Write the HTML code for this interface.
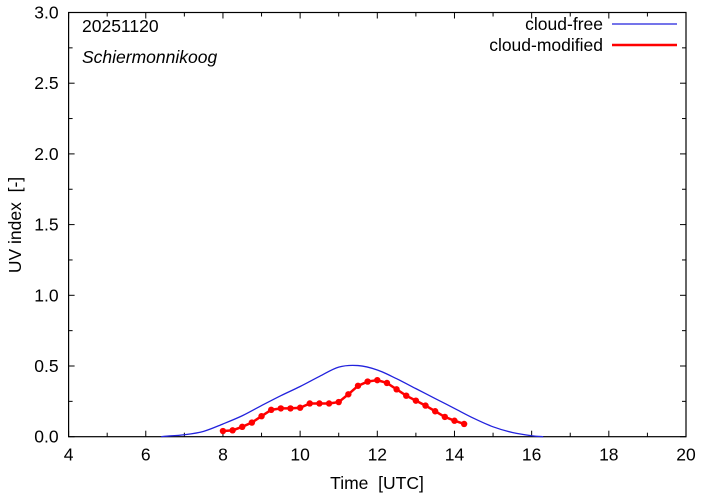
<!DOCTYPE html>
<html><head><meta charset="utf-8"><style>
html,body{margin:0;padding:0;background:#fff;}
svg{display:block;font-family:"Liberation Sans",sans-serif;}
</style></head><body>
<svg id="chart" width="702" height="497">
<rect x="0" y="0" width="702" height="497" fill="#fff"/>
<g id="axes"></g>
<g id="series"></g>
<text x="82" y="32" font-size="17.5">20251120</text>
<text x="82" y="63" font-size="17.5" font-style="italic">Schiermonnikoog</text>
<g>
<text x="603" y="30" font-size="17.5" text-anchor="end">cloud-free</text>
<line x1="612" y1="24" x2="677" y2="24" stroke="#2222dd" stroke-width="1.3"/>
<text x="603" y="51" font-size="17.5" text-anchor="end">cloud-modified</text>
<line x1="612" y1="45" x2="677" y2="45" stroke="#ff0000" stroke-width="2.5"/>
</g>
<text x="377" y="489" font-size="17.5" text-anchor="middle">Time&#160;&#160;[UTC]</text>
<text transform="translate(21,225) rotate(-90)" font-size="17.5" text-anchor="middle">UV index&#160;&#160;[-]</text>
</svg>
<script>
const xTicks=[4,6,8,10,12,14,16,18,20];
const yTicks=[0,0.5,1.0,1.5,2.0,2.5,3.0];
const yTickLabels=["0.0","0.5","1.0","1.5","2.0","2.5","3.0"];
const clearTimes=[6.4,6.5,7,7.5,8,8.5,9,9.5,10,10.5,11,11.5,12,12.5,13,13.5,14,14.5,15,15.5,16,16.3];
const clearUV=[0,0.003,0.014,0.038,0.09,0.148,0.22,0.29,0.355,0.426,0.492,0.503,0.472,0.41,0.34,0.27,0.20,0.13,0.07,0.03,0.007,0];
const cloudTimes=[8,8.25,8.5,8.75,9,9.25,9.5,9.75,10,10.25,10.5,10.75,11,11.25,11.5,11.75,12,12.25,12.5,12.75,13,13.25,13.5,13.75,14,14.25];
const cloudUV=[0.04,0.045,0.07,0.10,0.145,0.19,0.20,0.20,0.205,0.235,0.235,0.235,0.245,0.30,0.36,0.39,0.40,0.38,0.335,0.29,0.255,0.22,0.18,0.14,0.113,0.09];
const L=68.6,R=686,T=12.5,B=436.7;
const X=v=>L+(v-4)/16*(R-L);
const Y=v=>B-v/3*(B-T);
const NS="http://www.w3.org/2000/svg";
function mk(tag,attrs,parent){const e=document.createElementNS(NS,tag);for(const k in attrs)e.setAttribute(k,attrs[k]);parent.appendChild(e);return e;}
const ax=document.getElementById('axes');
const frame=mk('rect',{x:L,y:T,width:R-L,height:B-T,fill:'none',stroke:'#000','stroke-width':1.2},ax);


xTicks.forEach(t=>{
  for(let k=0;k<2;k++){const yy=k?T:B;const d=k?6:-6;
    const tk=mk('line',{x1:X(t),x2:X(t),y1:yy,y2:yy+d,stroke:'#000'},ax);
    
    }
  const lb=mk('text',{x:X(t),y:B+24,'font-size':17.5,'text-anchor':'middle'},ax);lb.textContent=t;
  
  
});
for(let t=5;t<20;t+=2){for(let k=0;k<2;k++){const yy=k?T:B;const d=k?4:-4;
  const tk=mk('line',{x1:X(t),x2:X(t),y1:yy,y2:yy+d,stroke:'#000'},ax);
  
  }}
yTicks.forEach((t,i)=>{
  for(let k=0;k<2;k++){const xx=k?R:L;const d=k?-6:6;
    const tk=mk('line',{x1:xx,x2:xx+d,y1:Y(t),y2:Y(t),stroke:'#000'},ax);
    
    }
  const lb=mk('text',{x:L-10,y:Y(t)+6,'font-size':17.5,'text-anchor':'end'},ax);lb.textContent=yTickLabels[i];
  
  
});
for(let t=0.25;t<3;t+=0.5){for(let k=0;k<2;k++){const xx=k?R:L;const d=k?-4:4;
  const tk=mk('line',{x1:xx,x2:xx+d,y1:Y(t),y2:Y(t),stroke:'#000'},ax);
  
  }}
function smoothPath(xs,ys){
  const P=xs.map((t,i)=>[X(t),Y(ys[i])]);
  let d='M'+P[0][0]+','+P[0][1];
  for(let i=0;i<P.length-1;i++){
    const p0=P[Math.max(0,i-1)],p1=P[i],p2=P[i+1],p3=P[Math.min(P.length-1,i+2)];
    const c1=[p1[0]+(p2[0]-p0[0])/6,p1[1]+(p2[1]-p0[1])/6];
    const c2=[p2[0]-(p3[0]-p1[0])/6,p2[1]-(p3[1]-p1[1])/6];
    d+=' C'+c1[0]+','+c1[1]+' '+c2[0]+','+c2[1]+' '+p2[0]+','+p2[1];
  }
  return d;
}
const s=document.getElementById('series');
const cf=mk('path',{d:smoothPath(clearTimes,clearUV),fill:'none',stroke:'#2222dd','stroke-width':1.3},s);


const cm=mk('polyline',{points:cloudTimes.map((t,i)=>X(t)+','+Y(cloudUV[i])).join(' '),fill:'none',stroke:'#ff0000','stroke-width':2.5},s);


cloudTimes.forEach((t,i)=>{
  const p=mk('circle',{cx:X(t),cy:Y(cloudUV[i]),r:3.2,fill:'#ff0000'},s);
  
  
});
</script>
</body></html>
